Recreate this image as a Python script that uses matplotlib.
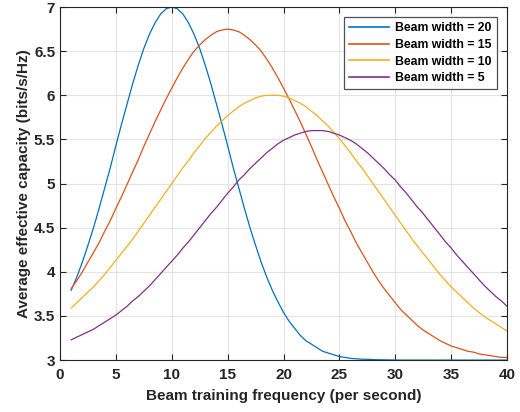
import numpy as np
import matplotlib
matplotlib.use("Agg")
import matplotlib.pyplot as plt

plt.rcParams['font.family'] = ['Liberation Sans', 'DejaVu Sans']
plt.rcParams['font.weight'] = 'bold'

# beam training frequency (per second), read every half step
freq = [1 + 0.5 * i for i in range(79)]

# average effective capacity
bw20 = [3.79, 3.94, 4.11, 4.30, 4.50, 4.72, 4.95, 5.18, 5.43, 5.67,
        5.90, 6.13, 6.34, 6.53, 6.69, 6.82, 6.92, 6.98, 7.00, 6.98,
        6.92, 6.82, 6.69, 6.53, 6.34, 6.13, 5.90, 5.67, 5.43, 5.18,
        4.95, 4.72, 4.50, 4.30, 4.11, 3.94, 3.79, 3.66, 3.54, 3.44,
        3.36, 3.28, 3.22, 3.18, 3.14, 3.10, 3.08, 3.06, 3.04, 3.03,
        3.02, 3.015, 3.01, 3.009, 3.006, 3.004, 3.003, 3.002, 3.001, 3.0,
        3.0, 3.0, 3.0, 3.0, 3.0, 3.0, 3.0, 3.0, 3.0, 3.0,
        3.0, 3.0, 3.0, 3.0, 3.0, 3.0, 3.0, 3.0, 3.0]
bw15 = [3.81, 3.90, 4.00, 4.11, 4.22, 4.33, 4.46, 4.58, 4.72, 4.85,
        4.99, 5.13, 5.27, 5.42, 5.56, 5.70, 5.83, 5.96, 6.08, 6.20,
        6.31, 6.41, 6.50, 6.57, 6.63, 6.68, 6.72, 6.74, 6.75, 6.74,
        6.72, 6.68, 6.63, 6.57, 6.50, 6.41, 6.31, 6.20, 6.08, 5.96,
        5.83, 5.70, 5.56, 5.42, 5.27, 5.13, 4.99, 4.85, 4.72, 4.58,
        4.46, 4.33, 4.22, 4.11, 4.00, 3.90, 3.81, 3.73, 3.65, 3.57,
        3.51, 3.45, 3.39, 3.34, 3.30, 3.26, 3.22, 3.19, 3.16, 3.14,
        3.12, 3.10, 3.09, 3.07, 3.06, 3.05, 3.04, 3.03, 3.03]
bw10 = [3.59, 3.65, 3.71, 3.77, 3.83, 3.90, 3.97, 4.05, 4.13, 4.21,
        4.29, 4.37, 4.46, 4.55, 4.64, 4.73, 4.82, 4.91, 5.00, 5.09,
        5.18, 5.26, 5.35, 5.43, 5.51, 5.58, 5.65, 5.71, 5.77, 5.82,
        5.87, 5.91, 5.94, 5.97, 5.99, 6.00, 6.00, 6.00, 5.99, 5.97,
        5.94, 5.91, 5.87, 5.82, 5.77, 5.71, 5.65, 5.58, 5.51, 5.43,
        5.35, 5.26, 5.18, 5.09, 5.00, 4.91, 4.82, 4.73, 4.64, 4.55,
        4.46, 4.37, 4.29, 4.21, 4.13, 4.05, 3.97, 3.90, 3.83, 3.77,
        3.71, 3.65, 3.59, 3.54, 3.49, 3.45, 3.41, 3.37, 3.33]
bw5 = [3.23, 3.26, 3.29, 3.32, 3.35, 3.39, 3.43, 3.47, 3.51, 3.56,
       3.61, 3.67, 3.72, 3.78, 3.84, 3.91, 3.98, 4.05, 4.12, 4.19,
       4.27, 4.34, 4.42, 4.50, 4.58, 4.66, 4.73, 4.81, 4.89, 4.96,
       5.04, 5.10, 5.17, 5.23, 5.29, 5.35, 5.40, 5.45, 5.49, 5.52,
       5.55, 5.57, 5.59, 5.60, 5.60, 5.60, 5.59, 5.57, 5.55, 5.52,
       5.49, 5.45, 5.40, 5.35, 5.29, 5.23, 5.17, 5.10, 5.04, 4.96,
       4.89, 4.81, 4.73, 4.66, 4.58, 4.50, 4.42, 4.34, 4.27, 4.19,
       4.12, 4.05, 3.98, 3.91, 3.84, 3.78, 3.72, 3.67, 3.61]

series = [bw20, bw15, bw10, bw5]
labels = ['Beam width = 20', 'Beam width = 15', 'Beam width = 10', 'Beam width = 5']
colors = ['#0072BD', '#D95319', '#EDB120', '#7E2F8E']

fig = plt.figure(figsize=(5.2, 4.12), dpi=100)
ax = fig.add_axes([0.1154, 0.126, 0.8596, 0.857])

for ys, lab, c in zip(series, labels, colors):
    ax.plot(freq, ys, color=c, lw=0.9, label=lab)

ax.set_xlim(0, 40)
ax.set_ylim(3, 7)
ax.set_xticks(np.arange(0, 41, 5))
ax.set_yticks(np.arange(3, 7.01, 0.5))
ax.set_yticklabels(['3', '3.5', '4', '4.5', '5', '5.5', '6', '6.5', '7'])
ax.grid(True, color='#e3e3e3', lw=0.8)
ax.set_axisbelow(True)
for s in ax.spines.values():
    s.set_color('#262626')
    s.set_linewidth(0.8)
ax.tick_params(direction='in', top=True, right=True, colors='#262626',
               labelsize=11, length=4, width=0.8)
ax.tick_params(axis='x', pad=6)

ax.set_xlabel('Beam training frequency (per second)', fontsize=11,
              fontweight='bold', color='#262626', labelpad=5)
ax.set_ylabel('Average effective capacity (bits/s/Hz)', fontsize=11,
              fontweight='bold', color='#262626', labelpad=2)

leg = ax.legend(loc='upper right', fontsize=8.8, frameon=True, fancybox=False,
                borderaxespad=0.85, handlelength=3.3, labelspacing=0.38,
                borderpad=0.4, handletextpad=0.5)
leg.get_frame().set_edgecolor('#262626')
leg.get_frame().set_linewidth(0.9)
for t in leg.get_texts():
    t.set_fontweight('bold')
for l in leg.get_lines():
    l.set_linewidth(1.2)

fig.savefig('out.png', dpi=100)
